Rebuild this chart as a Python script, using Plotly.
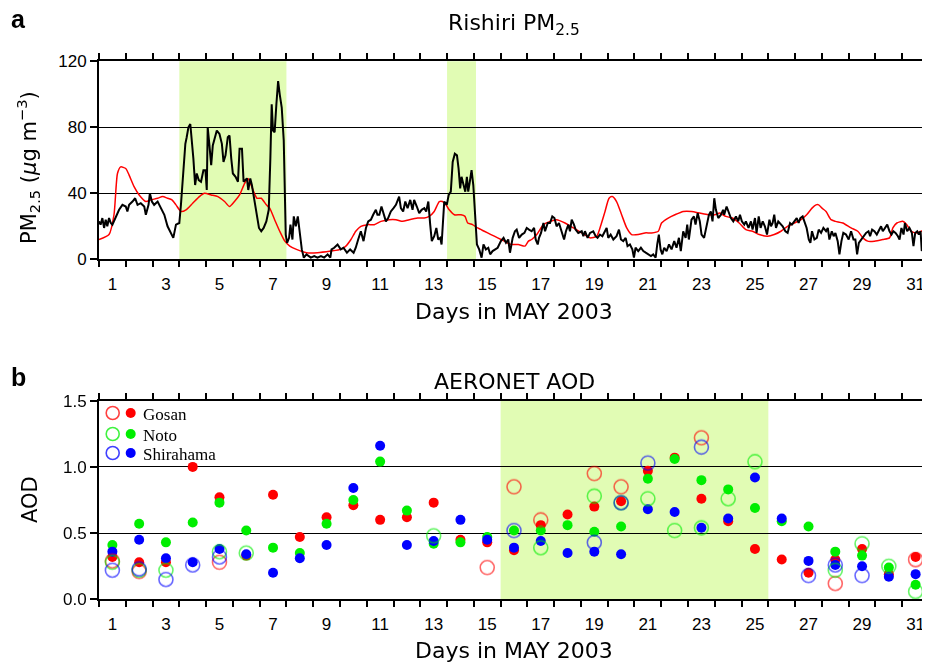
import plotly.graph_objects as go

# ---------------- Panel a: Rishiri PM2.5 (time = fractional day of May) ----------------
pm_time = [1.00, 1.06, 1.125, 1.19, 1.25, 1.31, 1.375, 1.44, 1.50, 1.625, 1.75, 1.875, 2.0, 2.06, 2.125, 2.25,
           2.35, 2.44, 2.56, 2.69, 2.75, 2.85, 2.90, 2.975, 3.06, 3.19, 3.31, 3.44, 3.56, 3.69, 3.775, 3.875,
           4.0, 4.06, 4.15, 4.225, 4.275, 4.34, 4.41, 4.475, 4.525, 4.59, 4.65, 4.725, 4.81, 4.90, 4.975, 5.025,
           5.06, 5.125, 5.19, 5.25, 5.34, 5.40, 5.50, 5.59, 5.65, 5.725, 5.81, 5.875, 5.94, 6.0, 6.10, 6.19,
           6.25, 6.34, 6.40, 6.475, 6.525, 6.575, 6.65, 6.71, 6.775, 6.84, 6.90, 6.975, 7.06, 7.15, 7.25, 7.34,
           7.40, 7.45, 7.50, 7.56, 7.625, 7.69, 7.75, 7.825, 7.90, 7.94, 7.975, 8.025, 8.10, 8.15, 8.225, 8.275,
           8.35, 8.425, 8.50, 8.575, 8.65, 8.75, 8.91, 9.04, 9.16, 9.29, 9.41, 9.54, 9.64, 9.685, 9.785, 9.91,
           10.03, 10.13, 10.26, 10.38, 10.51, 10.59, 10.68, 10.78, 10.88, 10.97, 11.055, 11.155, 11.24, 11.34,
           11.40, 11.47, 11.55, 11.63, 11.715, 11.80, 11.90, 12.00, 12.09, 12.21, 12.275, 12.36, 12.44, 12.525,
           12.625, 12.71, 12.77, 12.87, 12.96, 13.05, 13.15, 13.22, 13.30, 13.37, 13.43, 13.52, 13.60, 13.67,
           13.745, 13.795, 13.845, 13.895, 13.99, 14.06, 14.14, 14.21, 14.29, 14.37, 14.43, 14.49, 14.54, 14.62,
           14.68, 14.74, 14.79, 14.85, 14.915, 14.98, 15.04, 15.115, 15.20, 15.29, 15.36, 15.45, 15.54, 15.61,
           15.70, 15.79, 15.89, 16.01, 16.11, 16.20, 16.285, 16.35, 16.45, 16.535, 16.60, 16.69, 16.79, 16.89,
           16.975, 17.06, 17.16, 17.25, 17.31, 17.385, 17.435, 17.51, 17.60, 17.66, 17.76, 17.845, 17.93, 18.01,
           18.09, 18.18, 18.28, 18.37, 18.44, 18.53, 18.59, 18.655, 18.74, 18.80, 18.90, 19.03, 19.09, 19.15,
           19.25, 19.34, 19.46, 19.55, 19.62, 19.71, 19.80, 19.90, 19.96, 20.02, 20.11, 20.21, 20.33, 20.42,
           20.495, 20.58, 20.67, 20.74, 20.83, 20.92, 20.98, 21.04, 21.14, 21.24, 21.33, 21.42, 21.515, 21.615,
           21.70, 21.79, 21.85, 21.91, 21.975, 22.04, 22.11, 22.20, 22.29, 22.385, 22.485, 22.57, 22.66, 22.73,
           22.82, 22.91, 22.97, 23.03, 23.13, 23.22, 23.28, 23.36, 23.44, 23.505, 23.60, 23.69, 23.78, 23.85,
           23.915, 23.98, 24.04, 24.13, 24.23, 24.31, 24.35, 24.44, 24.515, 24.60, 24.69, 24.79, 24.875, 24.94,
           25.01, 25.10, 25.16, 25.26, 25.35, 25.41, 25.50, 25.56, 25.64, 25.71, 25.79, 25.87, 25.95, 26.04,
           26.10, 26.16, 26.22, 26.285, 26.37, 26.46, 26.535, 26.635, 26.72, 26.81, 26.88, 26.97, 27.06, 27.13,
           27.195, 27.28, 27.36, 27.43, 27.51, 27.57, 27.63, 27.72, 27.81, 27.88, 27.97, 28.055, 28.155, 28.22,
           28.28, 28.37, 28.44, 28.505, 28.59, 28.655, 28.73, 28.80, 28.90, 29.00, 29.09, 29.18, 29.25, 29.315,
           29.38, 29.465, 29.55, 29.65, 29.74, 29.80, 29.875, 29.96, 30.05, 30.125, 30.21, 30.275, 30.36, 30.44,
           30.525, 30.60, 30.67, 30.75, 30.84, 30.90, 30.97, 31.05, 31.10, 31.185, 31.27, 31.36, 31.42, 31.485,
           31.56, 31.62, 31.685, 31.73, 31.80, 31.87, 31.92, 31.97]
pm_obs = [23, 21, 25, 19, 24, 20, 25, 22, 21, 25, 30, 33, 32, 29, 33, 35,
          37, 33, 34, 32, 27, 33, 40, 35, 33, 35, 31, 27, 20, 16, 13, 21,
          22, 33, 55, 70, 74, 80, 82, 72, 61, 45, 52, 48, 47, 54, 54, 42,
          80, 69, 57, 69, 74, 78, 76, 70, 59, 63, 74, 75, 61, 52, 50, 47,
          67, 67, 47, 48, 49, 42, 49, 45, 39, 33, 25, 19, 17, 19, 23, 30,
          61, 94, 78, 77, 94, 108, 100, 92, 72, 41, 15, 10, 13, 21, 12, 26,
          20, 26, 17, 6, 1, 3, 1, 2, 1, 2, 1, 3, 1, 6, 7, 9,
          6, 7, 4, 6, 4, 7, 12, 17, 11, 19, 23, 24, 27, 30,
          27, 27, 32, 27, 23, 25, 29, 31, 33, 38, 31, 29, 35, 31,
          36, 30, 36, 32, 28, 30, 31, 29, 35, 21, 11, 14, 19, 12,
          13, 9, 21, 35, 33, 39, 41, 59, 64, 63, 55, 43, 50, 45,
          41, 50, 41, 47, 54, 45, 25, 9, 6, 1, 9, 6, 7, 3,
          5, 6, 7, 11, 13, 10, 12, 4, 13, 17, 18, 13, 15, 16,
          19, 18, 17, 19, 12, 9, 13, 16, 22, 17, 22, 22, 26, 25,
          20, 22, 17, 12, 17, 21, 17, 24, 21, 18, 16, 17, 14, 17,
          13, 16, 17, 14, 13, 15, 14, 17, 19, 13, 15, 12, 14, 18,
          12, 11, 13, 8, 9, 6, 1, 7, 5, 7, 5, 4, 3, 2,
          3, 1, 9, 15, 6, 3, 7, 5, 9, 6, 11, 7, 13, 5,
          17, 13, 21, 12, 24, 26, 21, 28, 23, 15, 13, 20, 27, 29,
          23, 37, 30, 25, 27, 30, 27, 32, 28, 25, 23, 26, 23, 27,
          23, 21, 23, 19, 23, 18, 25, 16, 26, 19, 23, 20, 15, 24,
          20, 22, 27, 19, 23, 21, 20, 17, 16, 22, 21, 23, 25, 22,
          25, 26, 22, 19, 12, 10, 17, 12, 13, 18, 16, 19, 17, 19,
          12, 17, 14, 16, 11, 3, 11, 16, 15, 12, 17, 12, 12, 3,
          10, 12, 14, 16, 17, 14, 18, 17, 15, 17, 20, 17, 19, 21,
          17, 15, 17, 16, 14, 12, 19, 15, 22, 17, 19, 16, 8, 16,
          17, 15, 17, 5, 17, 12, 9, 13]

model_time = [1.0, 1.375, 1.56, 1.69, 1.81, 2.0, 2.125, 2.31, 2.5, 2.75, 2.94, 3.19, 3.375, 3.56, 3.725, 3.875,
              4.06, 4.25, 4.5, 4.75, 4.94, 5.19, 5.44, 5.69, 5.875, 6.06, 6.25, 6.44, 6.56, 6.66, 6.775, 6.90,
              7.06, 7.25, 7.375, 7.56, 7.75, 7.94, 8.125, 8.375, 8.75, 9.16, 9.66, 10.03, 10.22, 10.41, 10.59,
              10.78, 11.03, 11.28, 11.53, 11.84, 12.09, 12.34, 12.59, 12.90, 13.15, 13.33, 13.52, 13.71, 13.83,
              13.96, 14.08, 14.27, 14.52, 14.67, 14.77, 14.95, 15.14, 15.39, 15.64, 15.89, 16.14, 16.385, 16.66,
              16.91, 17.04, 17.16, 17.35, 17.60, 17.85, 18.09, 18.405, 18.72, 19.03, 19.34, 19.59, 19.75, 19.90,
              20.05, 20.17, 20.33, 20.52, 20.71, 20.89, 21.14, 21.39, 21.64, 21.89, 22.01, 22.26, 22.51, 22.82,
              23.13, 23.44, 23.75, 24.00, 24.19, 24.41, 24.66, 24.91, 25.16, 25.41, 25.66, 25.97, 26.22, 26.47,
              26.72, 26.97, 27.22, 27.43, 27.63, 27.78, 27.88, 28.005, 28.155, 28.34, 28.505, 28.78, 29.09, 29.34,
              29.53, 29.71, 29.96, 30.275, 30.525, 30.65, 30.80, 31.02, 31.17, 31.335, 31.52, 31.71, 31.83, 31.92,
              31.97]
pm_model = [12, 15, 27, 52, 56, 55, 51, 44, 39, 35, 36, 37, 38, 37, 36, 33,
            29, 30, 34, 38, 40, 39, 38, 35, 32, 35, 39, 46, 49, 46, 41, 37,
            37, 33, 31, 24, 17, 11, 8, 6, 4, 4, 5, 6, 8, 12, 17,
            20, 21, 21, 23, 24, 24, 23, 24, 25, 25, 26, 29, 35, 35,
            33, 30, 27, 27, 26, 22, 21, 19, 17, 15, 13, 11, 9, 9,
            8, 11, 12, 15, 21, 23, 24, 22, 19, 16, 13, 14, 21, 29,
            37, 38, 35, 27, 19, 15, 15, 16, 16, 17, 22, 25, 27, 29,
            29, 28, 27, 27, 28, 26, 25, 22, 18, 17, 15, 14, 15, 17,
            20, 22, 24, 27, 31, 33, 33, 31, 29, 24, 23, 22, 19, 17,
            13, 11, 11, 12, 13, 19, 22, 23, 21, 17, 16, 17, 18, 16,
            3]

dust_periods_a = [(4.0, 8.0), (14.0, 15.08)]

# ---------------- Panel b: AERONET AOD (daily, one value per day of May) ----------------
days = list(range(1, 32))
gosan_filled = [0.32, 0.28, 0.28, 1.00, 0.77, 0.33, 0.79, 0.47, 0.62, 0.71, 0.60, 0.62, 0.73, 0.45, 0.43, 0.37,
                0.56, 0.64, 0.70, 0.74, 0.97, 1.07, 0.76, 0.59, 0.38, 0.30, 0.20, 0.30, 0.38, 0.19, 0.32]
noto_filled = [0.41, 0.57, 0.43, 0.58, 0.73, 0.52, 0.39, 0.35, 0.57, 0.75, 1.04, 0.67, 0.42, 0.43, 0.47, 0.52,
               0.52, 0.56, 0.51, 0.55, 0.91, 1.06, 0.90, 0.83, 0.69, 0.59, 0.55, 0.36, 0.33, 0.24, 0.11]
shirahama_filled = [0.36, 0.45, 0.31, 0.28, 0.38, 0.34, 0.20, 0.31, 0.41, 0.84, 1.16, 0.41, 0.44, 0.60, 0.45, 0.39,
                    0.44, 0.35, 0.36, 0.34, 0.68, 0.66, 0.54, 0.61, 0.92, 0.61, 0.29, 0.26, 0.25, 0.17, 0.19]
N = None
gosan_open = [0.29, 0.21, N, N, 0.28, N, N, N, N, N, N, N, N, N, 0.24, 0.85,
              0.60, N, 0.95, 0.85, N, N, 1.22, N, N, N, N, 0.12, N, N, 0.30]
noto_open = [0.28, 0.22, 0.22, N, 0.36, 0.35, N, N, N, N, N, N, 0.48, N, N, N,
             0.39, N, 0.78, 0.73, 0.76, 0.52, 0.54, 0.76, 1.04, N, N, 0.22, 0.42, 0.25, 0.06]
shirahama_open = [0.22, 0.23, 0.15, 0.26, 0.32, N, N, N, N, N, N, N, N, N, N, 0.52,
                  N, N, 0.43, 0.73, 1.03, N, 1.15, N, N, N, 0.18, 0.26, 0.18, N, N]
dust_period_b = (16.0, 26.0)

stations = ["Gosan", "Noto", "Shirahama"]
station_colors = ["#ff0000", "#00ee00", "#0000ff"]

x_label_days = list(range(1, 32, 2))
pm_ticks = [0, 40, 80, 120]
aod_ticks = [0.0, 0.5, 1.0, 1.5]

# ---------------- figure ----------------
W, H = 930, 662
OFF = 8                      # the page body margin shifts the figure by this many pixels
L = 99 - OFF                 # left plot edge lands at screen x = 99
R = W - (929 - OFF)          # right plot edge lands at screen x = 929
shade = "#e1fcb4"
tick_font = dict(family="Liberation Sans, Arial", size=17, color="black")
TITLE_SIZE = 22

fig = go.Figure()

fig.add_trace(go.Scatter(x=model_time, y=pm_model, mode="lines",
                         line=dict(color="#ff0000", width=1.5, shape="spline", smoothing=0.6),
                         xaxis="x", yaxis="y", showlegend=False, hoverinfo="skip"))
fig.add_trace(go.Scatter(x=pm_time, y=pm_obs, mode="lines", line=dict(color="black", width=2),
                         xaxis="x", yaxis="y", showlegend=False))

noon = [d + 0.5 for d in days]
for name, vals, col in zip(stations, [gosan_filled, noto_filled, shirahama_filled], station_colors):
    fig.add_trace(go.Scatter(x=noon, y=vals, mode="markers", name=name,
                             marker=dict(color=col, size=10, line=dict(width=0)),
                             xaxis="x2", yaxis="y2", showlegend=False))
for name, vals, col in zip(stations, [gosan_open, noto_open, shirahama_open], station_colors):
    fig.add_trace(go.Scatter(x=noon, y=vals, mode="markers", name=name + " (open)", opacity=0.6,
                             marker=dict(color=col, size=14, symbol="circle-open", line=dict(width=1.6, color=col)),
                             xaxis="x2", yaxis="y2", showlegend=False))

shapes = []
for (a, b) in dust_periods_a:
    shapes.append(dict(type="rect", xref="x", yref="y domain", x0=a, x1=b, y0=0, y1=1,
                       fillcolor=shade, line=dict(width=0), layer="below"))
shapes.append(dict(type="rect", xref="x2", yref="y2 domain", x0=dust_period_b[0], x1=dust_period_b[1], y0=0, y1=1,
                   fillcolor=shade, line=dict(width=0), layer="below"))


def px2paper_x(px):
    return (px - OFF - L) / (W - L - R)


def py2paper_y(py):
    return 1 - (py - OFF) / H


# legend (open + filled circle and station name)
leg_rows = [413, 434, 453]
for name, col, py in zip(stations, station_colors, leg_rows):
    yc = py2paper_y(py)
    for px, filled in [(112.7, False), (130.7, True)]:
        xc = px2paper_x(px)
        r = 5 if filled else 6.5
        shapes.append(dict(type="circle", xref="paper", yref="paper", xsizemode="pixel", ysizemode="pixel",
                           xanchor=xc, yanchor=yc, x0=-r, x1=r, y0=-r, y1=r,
                           fillcolor=col if filled else "rgba(0,0,0,0)",
                           line=dict(color=col, width=0 if filled else 1.6),
                           opacity=1 if filled else 0.75))

annotations = []
for name, py in zip(stations, leg_rows):
    annotations.append(dict(text=name, xref="paper", yref="paper", x=px2paper_x(141), y=py2paper_y(py + 1),
                            xanchor="left", yanchor="middle", showarrow=False,
                            font=dict(family="Liberation Serif, Times New Roman", size=17, color="black")))


def ann(text, px, py, size=TITLE_SIZE, bold=False, angle=0, family="DejaVu Sans"):
    annotations.append(dict(text=f"<b>{text}</b>" if bold else text, xref="paper", yref="paper",
                            x=px2paper_x(px), y=py2paper_y(py), xanchor="center", yanchor="middle",
                            showarrow=False, textangle=angle,
                            font=dict(family=family, size=size, color="black")))


ann("a", 18, 19, size=25, bold=True, family="Liberation Sans, Arial")
ann("b", 18, 377, size=25, bold=True, family="Liberation Sans, Arial")
ann("Rishiri PM<sub>2.5</sub>", 514, 25)
ann("AERONET AOD", 514, 381)
ann("Days in MAY 2003", 514, 312)
ann("Days in MAY 2003", 514, 650)
ann("PM<sub>2.5</sub> (<i>μ</i>g m<sup>−3</sup>)", 28, 168, size=21, angle=-90)
ann("AOD", 30, 500, size=21, angle=-90)

xaxis_common = dict(range=[1, 32], tickmode="array", tickvals=[d + 0.5 for d in x_label_days],
                    ticktext=[str(d) for d in x_label_days], ticks="outside", ticklen=0, tickwidth=0,
                    ticklabelstandoff=8,
                    minor=dict(tick0=1, dtick=1, ticks="outside", ticklen=6, tickwidth=1.5, tickcolor="black",
                               showgrid=False),
                    showline=True, linewidth=2, linecolor="black", mirror="ticks", showgrid=False,
                    zeroline=False, tickfont=tick_font, fixedrange=True, automargin=False)
yaxis_common = dict(ticks="outside", ticklen=7, tickwidth=1.5, tickcolor="black", showline=True, linewidth=2,
                    linecolor="black", mirror=True, showgrid=True, gridcolor="black", gridwidth=1,
                    zeroline=False, tickfont=tick_font, fixedrange=True, automargin=False)

fig.update_layout(
    width=W, height=H,
    margin=dict(l=L, r=R, t=0, b=0, pad=0, autoexpand=False),
    paper_bgcolor="white", plot_bgcolor="white",
    xaxis=dict(anchor="y", domain=[0, 1], **xaxis_common),
    yaxis=dict(domain=[py2paper_y(259.3), py2paper_y(61.3)], range=[0, 120], tickvals=pm_ticks,
               ticktext=[str(v) for v in pm_ticks], **yaxis_common),
    xaxis2=dict(anchor="y2", domain=[0, 1], **xaxis_common),
    yaxis2=dict(domain=[py2paper_y(599.3), py2paper_y(400.7)], range=[0, 1.5], tickvals=aod_ticks,
                ticktext=[f"{v:.1f}" for v in aod_ticks], **yaxis_common),
    shapes=shapes,
    annotations=annotations,
    showlegend=False,
)

fig.write_html("out.html")
